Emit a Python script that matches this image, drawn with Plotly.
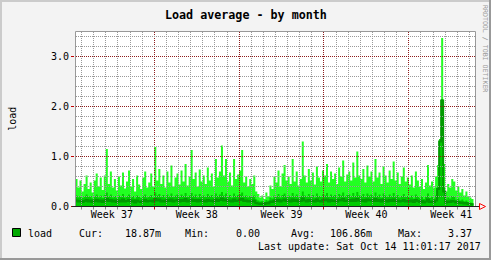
import math
import pandas as pd
import plotly.graph_objects as go

# ---------------- data ----------------
START = "2017-09-11 11:01:17"
END = "2017-10-14 11:01:17"
times = pd.date_range("2017-09-11 12:00", periods=198, freq="4h")

load_max = (
    [0.55, 0.38, 0.52] +
    [0.30, 0.45, 0.62, 0.35, 0.48, 0.28] +   # Sep 12
    [0.52, 0.66, 0.40, 0.58, 0.33, 0.62] +
    [1.15, 0.45, 0.70, 0.38, 0.55, 0.32] +
    [0.60, 0.42, 0.68, 0.36, 0.50, 0.72] +
    [0.40, 0.55, 0.30, 0.62, 0.44, 0.35] +
    [0.58, 0.70, 0.38, 0.48, 0.66, 0.40] +
    [1.19, 0.52, 0.75, 0.45, 0.62, 0.38] +   # Sep 18
    [0.70, 0.48, 0.82, 0.40, 0.58, 0.66] +
    [0.44, 0.72, 0.50, 0.85, 0.42, 0.60] +
    [1.13, 0.55, 0.68, 0.40, 0.74, 0.50] +
    [0.62, 0.45, 0.78, 0.52, 0.66, 0.40] +
    [0.95, 0.58, 0.70, 1.22, 0.62, 0.95] +
    [0.50, 0.68, 0.42, 0.95, 0.55, 0.64] +
    [0.72, 1.13, 0.48, 0.60, 0.40, 0.55] +   # Sep 25
    [0.45, 0.62, 0.30, 0.25, 0.18, 0.22] +
    [0.15, 0.28, 0.20, 0.42, 0.35, 0.60] +
    [0.48, 0.72, 0.40, 0.66, 0.83, 0.52] +
    [0.60, 0.45, 0.95, 0.50, 0.70, 0.42] +
    [0.55, 1.30, 0.62, 0.48, 0.75, 0.52] +
    [0.68, 0.44, 0.80, 0.58, 0.50, 0.72] +   # Oct 1
    [0.62, 0.85, 0.48, 0.70, 0.55, 0.66] +
    [0.45, 0.78, 0.60, 0.92, 0.50, 0.64] +
    [0.70, 0.52, 0.88, 0.58, 1.10, 0.62] +
    [0.55, 0.75, 0.48, 0.82, 0.60, 0.70] +
    [0.50, 0.95, 0.58, 0.68, 0.45, 0.80] +
    [0.62, 0.48, 0.72, 0.55, 0.90, 0.52] +
    [0.68, 0.45, 0.60, 0.78, 0.50, 0.58] +
    [0.44, 0.62, 0.38, 0.70, 0.52, 0.40] +   # Oct 9
    [0.55, 0.35, 0.48, 0.83, 0.42, 0.50] +
    [0.38, 0.60, 0.83, 1.20, 3.37, 0.85] +
    [0.30, 0.45, 0.38, 0.55, 0.50, 0.32] +
    [0.40, 0.28, 0.35, 0.22, 0.30, 0.20] +
    [0.18, 0.15, 0.12]
)

load_mid = (
    [0.22, 0.18, 0.21] +
    [0.17, 0.20, 0.24, 0.19, 0.21, 0.16] +
    [0.20, 0.24, 0.18, 0.22, 0.17, 0.23] +
    [0.28, 0.20, 0.24, 0.18, 0.21, 0.17] +
    [0.22, 0.19, 0.25, 0.18, 0.20, 0.24] +
    [0.18, 0.21, 0.16, 0.22, 0.19, 0.17] +
    [0.21, 0.24, 0.18, 0.20, 0.23, 0.18] +
    [0.28, 0.22, 0.25, 0.19, 0.23, 0.18] +
    [0.24, 0.20, 0.26, 0.19, 0.22, 0.24] +
    [0.19, 0.24, 0.21, 0.27, 0.19, 0.22] +
    [0.27, 0.21, 0.24, 0.18, 0.25, 0.20] +
    [0.22, 0.19, 0.25, 0.21, 0.23, 0.18] +
    [0.26, 0.21, 0.24, 0.29, 0.22, 0.26] +
    [0.20, 0.23, 0.18, 0.26, 0.21, 0.23] +
    [0.24, 0.28, 0.20, 0.22, 0.18, 0.21] +
    [0.19, 0.22, 0.14, 0.12, 0.10, 0.11] +
    [0.09, 0.13, 0.11, 0.18, 0.16, 0.22] +
    [0.20, 0.25, 0.18, 0.23, 0.26, 0.21] +
    [0.22, 0.19, 0.27, 0.20, 0.24, 0.18] +
    [0.21, 0.30, 0.22, 0.19, 0.25, 0.20] +
    [0.23, 0.18, 0.26, 0.21, 0.19, 0.24] +
    [0.22, 0.27, 0.19, 0.24, 0.21, 0.23] +
    [0.18, 0.25, 0.22, 0.28, 0.20, 0.23] +
    [0.24, 0.20, 0.27, 0.21, 0.29, 0.22] +
    [0.21, 0.25, 0.19, 0.26, 0.22, 0.24] +
    [0.20, 0.28, 0.21, 0.24, 0.18, 0.26] +
    [0.22, 0.19, 0.24, 0.20, 0.27, 0.20] +
    [0.23, 0.18, 0.21, 0.25, 0.19, 0.21] +
    [0.18, 0.22, 0.16, 0.24, 0.20, 0.17] +
    [0.20, 0.15, 0.19, 0.26, 0.17, 0.19] +
    [0.16, 0.22, 0.40, 1.35, 2.15, 0.38] +
    [0.14, 0.18, 0.16, 0.21, 0.19, 0.14] +
    [0.16, 0.12, 0.14, 0.10, 0.12, 0.09] +
    [0.08, 0.07, 0.06]
)

load_avg = (
    [0.12, 0.10, 0.11] +
    [0.09, 0.11, 0.13, 0.10, 0.12, 0.09] +
    [0.11, 0.13, 0.10, 0.12, 0.09, 0.12] +
    [0.15, 0.11, 0.13, 0.10, 0.12, 0.09] +
    [0.12, 0.10, 0.14, 0.10, 0.11, 0.13] +
    [0.10, 0.12, 0.08, 0.12, 0.10, 0.09] +
    [0.11, 0.13, 0.10, 0.11, 0.12, 0.10] +
    [0.15, 0.12, 0.14, 0.10, 0.12, 0.10] +
    [0.13, 0.11, 0.14, 0.10, 0.12, 0.13] +
    [0.10, 0.13, 0.11, 0.15, 0.10, 0.12] +
    [0.14, 0.11, 0.13, 0.10, 0.13, 0.11] +
    [0.12, 0.10, 0.13, 0.11, 0.12, 0.10] +
    [0.14, 0.11, 0.13, 0.16, 0.12, 0.14] +
    [0.11, 0.12, 0.10, 0.14, 0.11, 0.12] +
    [0.13, 0.15, 0.11, 0.12, 0.10, 0.11] +
    [0.10, 0.12, 0.07, 0.06, 0.05, 0.06] +
    [0.05, 0.07, 0.06, 0.10, 0.09, 0.12] +
    [0.11, 0.13, 0.10, 0.12, 0.14, 0.11] +
    [0.12, 0.10, 0.14, 0.11, 0.13, 0.10] +
    [0.11, 0.16, 0.12, 0.10, 0.13, 0.11] +
    [0.12, 0.10, 0.14, 0.11, 0.10, 0.13] +
    [0.12, 0.14, 0.10, 0.13, 0.11, 0.12] +
    [0.10, 0.13, 0.12, 0.15, 0.11, 0.12] +
    [0.13, 0.11, 0.14, 0.11, 0.15, 0.12] +
    [0.11, 0.13, 0.10, 0.14, 0.12, 0.13] +
    [0.11, 0.15, 0.11, 0.13, 0.10, 0.14] +
    [0.12, 0.10, 0.13, 0.11, 0.14, 0.11] +
    [0.12, 0.10, 0.11, 0.13, 0.10, 0.11] +
    [0.10, 0.12, 0.09, 0.13, 0.11, 0.09] +
    [0.11, 0.08, 0.10, 0.14, 0.09, 0.10] +
    [0.09, 0.12, 0.35, 1.30, 2.12, 0.30] +
    [0.08, 0.10, 0.09, 0.11, 0.10, 0.08] +
    [0.09, 0.07, 0.08, 0.06, 0.07, 0.05] +
    [0.05, 0.04, 0.04]
)

week_starts = ["2017-09-18", "2017-09-25", "2017-10-02", "2017-10-09"]
week_centers = ["2017-09-14 12:00", "2017-09-21 12:00", "2017-09-28 12:00",
                "2017-10-05 12:00", "2017-10-12 12:00"]
week_labels = ["Week 37", "Week 38", "Week 39", "Week 40", "Week 41"]
y_tickvals = [0, 1, 2, 3]
y_ticktext = ["0.0", "1.0", "2.0", "3.0"]
y_max = 3.5

title = "Load average - by month"
y_title = "load"
legend_name = "load"
legend_items = [("Cur:", "18.87m"), ("Min:", "0.00"), ("Avg:", "106.86m"), ("Max:", "3.37")]
last_update = "Last update: Sat Oct 14 11:01:17 2017"
watermark = "RRDTOOL / TOBI OETIKER"

# ---------------- styling ----------------
W, H = 491, 260
PL, PR, PT, PB = 75, 475, 31.5, 206.5
BG = "#F3F3F3"
MONO = "DejaVu Sans Mono"
GRID = "#999999"
MGRID = "#8E1C1C"
LIGHT = "#22FF22"
MID = "#00CC00"
DARK = "#009A00"


def fx(px):
    return px / W


def fy(py):
    return 1 - py / H


t0, t1 = pd.Timestamp(START), pd.Timestamp(END)


def date_px(d):
    """pixel column of a date on the time axis, snapped to a pixel centre"""
    px = PL + (pd.Timestamp(d) - t0) / (t1 - t0) * (PR - PL)
    return math.floor(px) + 0.5


fig = go.Figure()
fig.add_trace(go.Scatter(x=times, y=load_max, mode="lines", fill="tozeroy",
                         fillcolor=LIGHT, line=dict(width=0, shape="hv", color=LIGHT),
                         hoverinfo="skip", showlegend=False))
fig.add_trace(go.Scatter(x=times, y=load_mid, mode="lines", fill="tozeroy",
                         fillcolor=MID, line=dict(width=0, shape="hv", color=MID),
                         hoverinfo="skip", showlegend=False))
fig.add_trace(go.Scatter(x=times, y=load_avg, mode="lines",
                         line=dict(width=2, shape="hv", color=DARK),
                         hoverinfo="skip", showlegend=False))

shapes = []
# vertical grid (days; week starts in dark red)
days = pd.date_range("2017-09-12", "2017-10-14", freq="D")
for d in days:
    is_week = d.strftime("%Y-%m-%d") in week_starts
    xp = fx(date_px(d))
    shapes.append(dict(type="line", xref="paper", yref="paper", x0=xp, x1=xp,
                       y0=fy(207), y1=fy(32),
                       line=dict(color=MGRID if is_week else GRID, width=1, dash="1px,1px"),
                       layer="above"))
    shapes.append(dict(type="line", xref="paper", yref="paper", x0=xp, x1=xp,
                       y0=fy(PB), y1=fy(PB + 3),
                       line=dict(color="#C00000" if is_week else "#888888", width=1),
                       layer="above"))
# horizontal grid
for k in range(1, 18):
    v = k * 0.2
    major = abs(v - round(v)) < 1e-6
    shapes.append(dict(type="line", xref="paper", yref="y", x0=fx(PL + 1), x1=fx(PR), y0=v, y1=v,
                       line=dict(color=MGRID if major else GRID, width=1, dash="1px,1px"),
                       layer="above"))
# plot frame
shapes.append(dict(type="rect", xref="paper", yref="paper", x0=fx(PL + 0.5), x1=fx(PR + 0.5),
                   y0=fy(PB), y1=fy(PT), line=dict(color="#999999", width=1), layer="above"))
# x axis line + arrow
shapes.append(dict(type="line", xref="paper", yref="paper", x0=fx(PL - 3), x1=fx(480),
                   y0=fy(PB), y1=fy(PB), line=dict(color="#202020", width=1), layer="above"))
arrow = "M {:.5f},{:.5f} L {:.5f},{:.5f} L {:.5f},{:.5f} Z".format(
    fx(479.5), fy(PB - 3), fx(485.5), fy(PB), fx(479.5), fy(PB + 3))
shapes.append(dict(type="path", xref="paper", yref="paper", path=arrow,
                   line=dict(color="#FF0000", width=1), fillcolor="rgba(0,0,0,0)", layer="above"))
# legend square
shapes.append(dict(type="rect", xref="paper", yref="paper", x0=fx(12.5), x1=fx(20.5),
                   y0=fy(236.5), y1=fy(228.5), fillcolor="#00A800",
                   line=dict(color="#000000", width=1), layer="above"))
# 3D image border
shapes.append(dict(type="line", xref="paper", yref="paper", x0=0, x1=1, y0=fy(1), y1=fy(1),
                   line=dict(color="#CBCBCB", width=2)))
shapes.append(dict(type="line", xref="paper", yref="paper", x0=fx(1), x1=fx(1), y0=0, y1=1,
                   line=dict(color="#CBCBCB", width=2)))
shapes.append(dict(type="line", xref="paper", yref="paper", x0=0, x1=1, y0=fy(259), y1=fy(259),
                   line=dict(color="#999999", width=2)))
shapes.append(dict(type="line", xref="paper", yref="paper", x0=fx(490), x1=fx(490), y0=0, y1=1,
                   line=dict(color="#999999", width=2)))

annotations = [
    dict(text="<b>" + title + "</b>", x=fx(246), y=fy(14.5), xref="paper", yref="paper",
         xanchor="center", yanchor="middle", showarrow=False,
         font=dict(family=MONO, size=11.7, color="#000")),
    dict(text=y_title, x=fx(12.3), y=fy(118.5), xref="paper", yref="paper", textangle=-90,
         xanchor="center", yanchor="middle", showarrow=False,
         font=dict(family=MONO, size=10, color="#000")),
    dict(text=watermark, x=fx(485.5), y=fy(48.5), xref="paper", yref="paper", textangle=90,
         xanchor="center", yanchor="middle", showarrow=False,
         font=dict(family=MONO, size=6.6, color="#999999")),
    dict(text=legend_name, x=fx(25.5), y=fy(233), xref="paper", yref="paper",
         xanchor="left", yanchor="middle", showarrow=False,
         font=dict(family=MONO, size=10, color="#000")),
    dict(text=last_update, x=fx(256), y=fy(246.5), xref="paper", yref="paper",
         xanchor="left", yanchor="middle", showarrow=False,
         font=dict(family=MONO, size=10, color="#000")),
]
value_right = [163, 262, 374, 474]
label_xs = [76.5, 183.3, 289, 395.7]
for (lab, val), lx, vr in zip(legend_items, label_xs, value_right):
    annotations.append(dict(text=lab, x=fx(lx), y=fy(233), xref="paper", yref="paper",
                            xanchor="left", yanchor="middle", showarrow=False,
                            font=dict(family=MONO, size=10, color="#000")))
    annotations.append(dict(text=val, x=fx(vr), y=fy(233), xref="paper", yref="paper",
                            xanchor="right", yanchor="middle", showarrow=False,
                            font=dict(family=MONO, size=10, color="#000")))

fig.update_layout(
    width=W, height=H, margin=dict(l=0, r=0, t=0, b=0, autoexpand=False),
    paper_bgcolor=BG, plot_bgcolor="#FFFFFF",
    showlegend=False, shapes=shapes, annotations=annotations,
    xaxis=dict(type="date", range=[START, END], domain=[fx(PL), fx(PR)],
               tickmode="array", tickvals=week_centers, ticktext=week_labels,
               ticks="", showgrid=False, zeroline=False, showline=False, automargin=False,
               tickfont=dict(family=MONO, size=10, color="#000"), fixedrange=True),
    yaxis=dict(range=[0, y_max], domain=[fy(PB), fy(PT)],
               tickmode="array", tickvals=y_tickvals, ticktext=y_ticktext,
               ticks="outside", ticklen=3, tickcolor="#C00000", tickwidth=1,
               showgrid=False, zeroline=False, showline=False, automargin=False,
               tickfont=dict(family=MONO, size=10, color="#000"), fixedrange=True),
)

fig.write_html("out.html", config={"displayModeBar": False})
